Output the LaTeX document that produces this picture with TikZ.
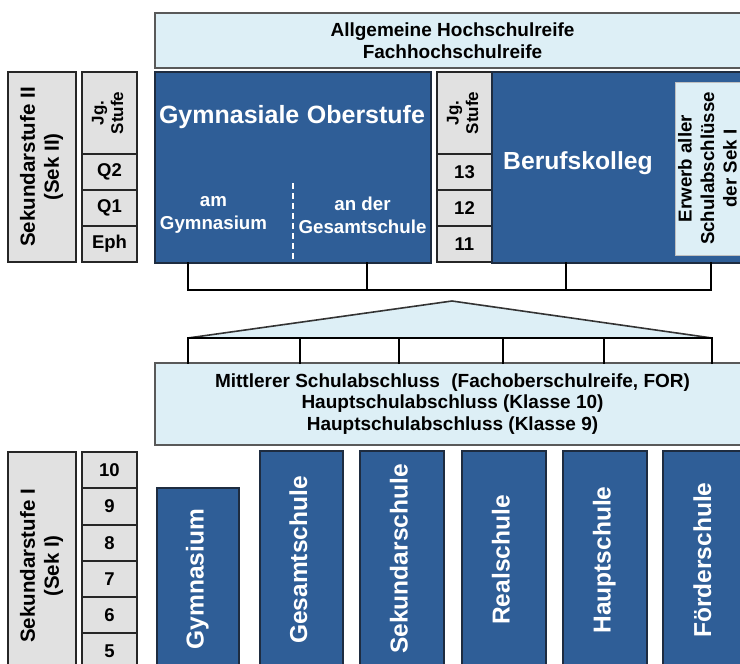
\documentclass[tikz,border=0pt]{standalone}
\usepackage{fontspec}
\setmainfont{Liberation Sans}
\usepackage{graphicx}
\usetikzlibrary{calc}
\definecolor{dblue}{HTML}{2F5E97}
\definecolor{bdark}{HTML}{1E2C40}
\definecolor{lblue}{HTML}{DDEFF6}
\definecolor{lgray}{HTML}{E1E1E1}
\newcommand\fs[2]{\fontsize{#1}{#2}\selectfont}
\newcommand\rot[1]{\rotatebox{90}{\begin{tabular}{@{}c@{}}#1\end{tabular}}}
\tikzset{
 base/.style={inner sep=0pt, outer sep=0pt, align=center, font=\bfseries},
 graybox/.style={base, draw=black!85, line width=1.3pt, fill=lgray, text=black},
 bluebox/.style={base, draw=bdark, line width=1.3pt, fill=dblue, text=white},
 lightbox/.style={base, draw=black!65, line width=1.6pt, fill=lblue, text=black},
 innerbox/.style={base, draw=black!25, line width=0.8pt, fill=lblue, text=black},
 wtext/.style={base, text=white},
 conn/.style={line width=1.8pt, draw=black, line cap=rect},
 tri/.style={line width=1.6pt, draw=black!80, line join=round},
}
\newcommand\bx[7]{\node[#1, minimum width={(#4-#2)*1pt}, minimum height={(#5-#3)*1pt}] (#6) at ({(#2+#4)/2},{(#3+#5)/2}) {#7};}
\begin{document}
\begin{tikzpicture}[x=1pt,y=-1pt]
\useasboundingbox (0,0) rectangle (740,664);
\clip (0,0) rectangle (740,664);
% top
\bx{lightbox,font=\bfseries\fs{19}{21.5}}{155}{13}{750}{68}{top}{Allgemeine Hochschulreife\\Fachhochschulreife}
% Sek II
\bx{graybox,font=\bfseries\fs{20.5}{24}}{8}{72}{76}{262}{sekII}{\rot{Sekundarstufe II\\(Sek II)}}
\bx{graybox,font=\bfseries\fs{17}{19.5}}{82}{72}{137}{154}{jgA}{\rot{Jg.\\Stufe}}
\bx{graybox,font=\bfseries\fs{18.5}{20}}{82}{154}{137}{190}{q2}{Q2}
\bx{graybox,font=\bfseries\fs{18.5}{20}}{82}{190}{137}{226}{q1}{Q1}
\bx{graybox,font=\bfseries\fs{18.5}{20}}{82}{226}{137}{262}{eph}{Eph}
% Gymnasiale Oberstufe
\bx{bluebox}{155}{72}{431}{263}{gos}{}
\node[wtext, font=\bfseries\fs{25}{28}] (gost) at (292,117) {Gymnasiale\hspace{0.3em}Oberstufe};
\node[wtext, font=\bfseries\fs{18.7}{23}] (amg) at (213.5,215) {am\\Gymnasium};
\node[wtext, font=\bfseries\fs{18.7}{23}] (ang) at (362.5,215) {an der\\Gesamtschule};
\draw[white, line width=1.3pt, dash pattern=on 6pt off 4pt] (293,183) -- (293,262);
% Berufskolleg
\bx{graybox,font=\bfseries\fs{17}{19.5}}{437}{72}{492}{154}{jgB}{\rot{Jg.\\Stufe}}
\bx{graybox,font=\bfseries\fs{18.5}{20}}{437}{154}{492}{190}{k13}{13}
\bx{graybox,font=\bfseries\fs{18.5}{20}}{437}{190}{492}{226}{k12}{12}
\bx{graybox,font=\bfseries\fs{18.5}{20}}{437}{226}{492}{262}{k11}{11}
\bx{bluebox}{492}{72}{752}{263}{beruf}{}
\node[wtext, font=\bfseries\fs{24.7}{28}] (beruft) at (578,163) {Berufskolleg};
\bx{innerbox,font=\bfseries\fs{18.7}{22.5}}{676}{82}{743}{255}{erwerb}{\rot{Erwerb aller\\Schulabschlüsse\\der Sek I}}
% upper bracket
\coordinate (u1) at (188,290);
\coordinate (u2) at (367,290);
\coordinate (u3) at (566,290);
\coordinate (u4) at (711,290);
\draw[conn] (gos.south -| u1) -- (u1) -- (u4) -- (u4 |- beruf.south);
\draw[conn] (gos.south -| u2) -- (u2);
\draw[conn] (beruf.south -| u3) -- (u3);
% triangle
\coordinate (apex) at (452,301);
\coordinate (tL) at (188,338);
\coordinate (tR) at (712,338);
\fill[lblue] (tL) -- (apex) -- (tR) -- cycle;
\draw[tri] (tL) -- (apex) -- (tR);
% Mittlerer box
\bx{lightbox,font=\bfseries\fs{19}{21.5}}{155}{363}{750}{445}{mitt}{Mittlerer Schulabschluss\hspace{0.6em}(Fachoberschulreife, FOR)\\Hauptschulabschluss (Klasse 10)\\Hauptschulabschluss (Klasse 9)}
\draw[conn] (tL) -- (tR);
\foreach \x [count=\i] in {188,300,399,503,604,712}{
  \coordinate (l\i) at (\x,338);
  \draw[conn] (l\i) -- (l\i |- mitt.north);
}
% Sek I
\bx{graybox,font=\bfseries\fs{20.5}{24}}{8}{452}{76}{680}{sekI}{\rot{Sekundarstufe I\\(Sek I)}}
\bx{graybox,font=\bfseries\fs{18.5}{20}}{82}{452}{137}{488}{g10}{10}
\bx{graybox,font=\bfseries\fs{18.5}{20}}{82}{488}{137}{525}{g9}{9}
\bx{graybox,font=\bfseries\fs{18.5}{20}}{82}{525}{137}{561}{g8}{8}
\bx{graybox,font=\bfseries\fs{18.5}{20}}{82}{561}{137}{597}{g7}{7}
\bx{graybox,font=\bfseries\fs{18.5}{20}}{82}{597}{137}{633}{g6}{6}
\bx{graybox,font=\bfseries\fs{18.5}{20}}{82}{633}{137}{669}{g5}{5}
% schools
\bx{bluebox,font=\bfseries\fs{24.5}{28}}{157}{488}{239}{670}{gym}{\rot{Gymnasium}}
\bx{bluebox,font=\bfseries\fs{24.5}{28}}{260}{451}{343}{669}{ges}{\rot{Gesamtschule}}
\bx{bluebox,font=\bfseries\fs{24.5}{28}}{360}{451}{444}{667}{sek}{\rot{Sekundarschule}}
\bx{bluebox,font=\bfseries\fs{24.5}{28}}{462}{451}{546}{669}{real}{\rot{Realschule}}
\bx{bluebox,font=\bfseries\fs{24.5}{28}}{563}{451}{647}{669}{haupt}{\rot{Hauptschule}}
\bx{bluebox,font=\bfseries\fs{24.5}{28}}{663}{451}{748}{669}{foerd}{\rot{Förderschule}}
\end{tikzpicture}
\end{document}
